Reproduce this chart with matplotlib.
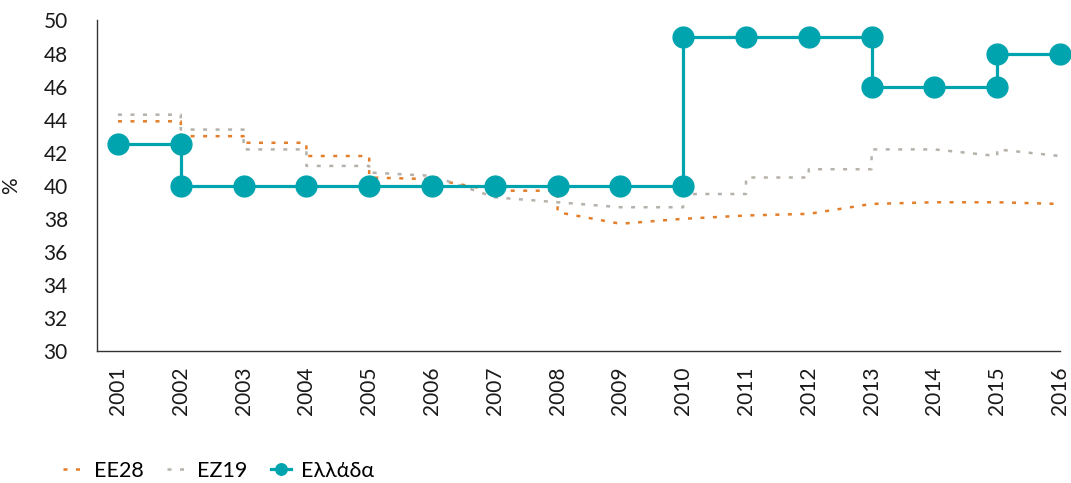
import matplotlib
matplotlib.use("Agg")
import matplotlib.pyplot as plt

years = list(range(2001, 2017))
year_labels = [str(y) for y in years]

ee28_x = [2001, 2002, 2002, 2003, 2003, 2004, 2004, 2005, 2005, 2006, 2007, 2008, 2008,
          2009, 2010, 2011, 2012, 2013, 2014, 2015, 2016]
ee28_y = [43.9, 43.9, 43.0, 43.0, 42.6, 42.6, 41.8, 41.8, 40.5, 40.4, 39.7, 39.7, 38.4,
          37.7, 38.0, 38.2, 38.3, 38.9, 39.0, 39.0, 38.9]

ez19_x = [2001, 2002, 2002, 2003, 2003, 2004, 2004, 2005, 2005, 2006, 2007, 2008, 2009,
          2010, 2010, 2011, 2011, 2012, 2012, 2013, 2013, 2014, 2015, 2015, 2016]
ez19_y = [44.3, 44.3, 43.4, 43.4, 42.2, 42.2, 41.2, 41.2, 40.8, 40.6, 39.3, 39.0, 38.7,
          38.7, 39.5, 39.5, 40.5, 40.5, 41.0, 41.0, 42.2, 42.2, 41.8, 42.2, 41.8]

gr_x = [2001, 2002, 2002, 2003, 2004, 2005, 2006, 2007, 2008, 2009, 2010, 2010,
        2011, 2012, 2013, 2013, 2014, 2015, 2015, 2016]
gr_y = [42.5, 42.5, 40, 40, 40, 40, 40, 40, 40, 40, 40, 49,
        49, 49, 49, 46, 46, 46, 48, 48]

series_names = ["ΕΕ28", "ΕΖ19", "Ελλάδα"]
y_ticks = list(range(30, 51, 2))

plt.rcParams['font.family'] = ['Lato', 'Noto Sans', 'DejaVu Sans']

fig = plt.figure(figsize=(10.71, 4.83), dpi=100)
ax = fig.add_axes([97/1071, 1 - 351/483, (1060 - 97)/1071, (351 - 20.5)/483])

orange = "#E37E2B"
gray = "#B6B1AA"
teal = "#00A4AF"

ax.plot(ee28_x, ee28_y, color=orange, lw=1.8, linestyle=(0, (1.6, 3.4)),
        label=series_names[0], zorder=2)
ax.plot(ez19_x, ez19_y, color=gray, lw=1.8, linestyle=(0, (1.6, 3.4)),
        label=series_names[1], zorder=2)
ax.plot(gr_x, gr_y, color=teal, lw=2.3, marker='o', markersize=15,
        label=series_names[2], zorder=3, clip_on=False)

ax.set_xlim(2000.666, 2016)
ax.set_ylim(30, 50)
ax.set_xticks(years)
ax.set_xticklabels(year_labels, rotation=90, fontsize=15, color="#1a1a1a")
ax.set_yticks(y_ticks)
ax.set_yticklabels([str(t) for t in y_ticks], fontsize=15, color="#1a1a1a")
ax.tick_params(axis='both', length=0)
ax.tick_params(axis='x', pad=11)
ax.tick_params(axis='y', pad=21)

for s in ['top', 'right']:
    ax.spines[s].set_visible(False)
for s in ['left', 'bottom']:
    ax.spines[s].set_color("#333333")
    ax.spines[s].set_linewidth(1.0)

ax.set_ylabel("%", fontsize=15, color="#1a1a1a", labelpad=16)

leg = fig.legend(loc='lower left', bbox_to_anchor=(44/1071, -0.035), ncol=3,
                 frameon=False, fontsize=15.5, handlelength=0.9, columnspacing=1.1,
                 handletextpad=0.5, markerscale=0.55)

fig.savefig("out.png", dpi=100)
